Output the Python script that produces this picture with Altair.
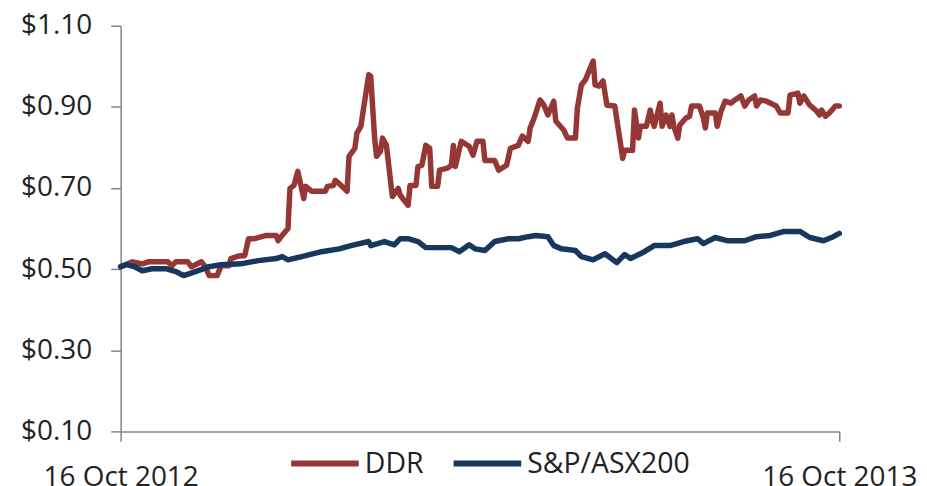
import altair as alt
import pandas as pd

start_date = "2012-10-16"
series_names = ["DDR", "S&P/ASX200"]
series_colors = ["#953735", "#17375E"]
y_ticks = [0.1, 0.3, 0.5, 0.7, 0.9, 1.1]

# days after 16 Oct 2012 and closing values
ddr_day = [0, 6, 11, 14, 24, 26, 28, 34, 36, 41,
           43, 45, 49, 51, 55, 56, 59, 61, 63, 65,
           68, 74, 79, 80, 82, 85, 86, 88, 90, 93,
           94, 97, 104, 105, 108, 109, 112, 115, 116, 119,
           120, 122, 126, 127, 129, 130, 132, 133, 135, 138,
           141, 142, 146, 147, 150, 151, 153, 155, 157, 158,
           161, 162, 166, 168, 169, 170, 173, 177, 179, 181,
           184, 185, 190, 192, 196, 198, 202, 204, 207, 208,
           210, 213, 215, 217, 220, 221, 225, 227, 231, 232,
           234, 236, 240, 241, 243, 245, 247, 251, 255, 256,
           260, 261, 263, 264, 267, 269, 270, 271, 273, 274,
           275, 277, 279, 280, 281, 283, 284, 287, 289, 290,
           294, 296, 297, 298, 302, 303, 305, 307, 310, 312,
           315, 317, 319, 322, 323, 325, 328, 333, 335, 339,
           340, 344, 345, 347, 350, 353, 355, 356, 358, 360,
           363, 365]
ddr_val = [0.506, 0.518, 0.513, 0.518, 0.518, 0.508, 0.518, 0.518, 0.506, 0.518,
           0.506, 0.484, 0.484, 0.508, 0.508, 0.526, 0.531, 0.533, 0.533, 0.575,
           0.575, 0.583, 0.583, 0.570, 0.583, 0.600, 0.699, 0.706, 0.741, 0.674,
           0.704, 0.692, 0.692, 0.704, 0.706, 0.719, 0.706, 0.692, 0.778, 0.798,
           0.835, 0.852, 0.979, 0.976, 0.823, 0.778, 0.791, 0.823, 0.805, 0.679,
           0.699, 0.682, 0.657, 0.706, 0.706, 0.753, 0.756, 0.805, 0.798, 0.704,
           0.704, 0.744, 0.749, 0.756, 0.805, 0.753, 0.815, 0.803, 0.781, 0.815,
           0.815, 0.768, 0.768, 0.744, 0.756, 0.798, 0.805, 0.828, 0.815, 0.848,
           0.872, 0.917, 0.904, 0.880, 0.914, 0.865, 0.843, 0.823, 0.823, 0.897,
           0.954, 0.966, 1.013, 0.954, 0.951, 0.964, 0.904, 0.902, 0.773, 0.793,
           0.793, 0.892, 0.823, 0.852, 0.852, 0.892, 0.867, 0.852, 0.890, 0.909,
           0.852, 0.880, 0.852, 0.880, 0.852, 0.823, 0.855, 0.872, 0.877, 0.902,
           0.902, 0.872, 0.848, 0.885, 0.885, 0.852, 0.890, 0.914, 0.909, 0.917,
           0.927, 0.902, 0.917, 0.927, 0.902, 0.917, 0.914, 0.902, 0.885, 0.885,
           0.929, 0.934, 0.909, 0.927, 0.904, 0.892, 0.880, 0.892, 0.877, 0.885,
           0.902, 0.902]

sp_day = [0, 3, 7, 11, 16, 23, 28, 32, 38, 45,
          51, 61, 70, 79, 82, 85, 92, 102, 111, 117,
          126, 127, 134, 139, 142, 146, 151, 155, 163, 168,
          172, 177, 180, 185, 190, 197, 202, 207, 211, 217,
          220, 224, 231, 234, 240, 246, 252, 256, 259, 266,
          271, 279, 286, 293, 296, 302, 308, 317, 323, 330,
          337, 345, 350, 357, 362, 365]
sp_val = [0.506, 0.511, 0.506, 0.496, 0.501, 0.501, 0.494, 0.484, 0.494, 0.506,
          0.511, 0.513, 0.521, 0.526, 0.531, 0.523, 0.531, 0.543, 0.550, 0.558,
          0.568, 0.558, 0.568, 0.560, 0.575, 0.575, 0.568, 0.553, 0.553, 0.553,
          0.543, 0.560, 0.550, 0.546, 0.568, 0.575, 0.575, 0.580, 0.583, 0.580,
          0.558, 0.550, 0.546, 0.531, 0.523, 0.538, 0.516, 0.536, 0.526, 0.543,
          0.558, 0.558, 0.568, 0.575, 0.563, 0.578, 0.570, 0.570, 0.580, 0.583,
          0.593, 0.593, 0.578, 0.570, 0.580, 0.588]

base = pd.Timestamp(start_date)
rows = []
for name, days, vals in [(series_names[0], ddr_day, ddr_val),
                         (series_names[1], sp_day, sp_val)]:
    for d, v in zip(days, vals):
        rows.append({"date": (base + pd.Timedelta(days=d)).strftime("%Y-%m-%d"),
                     "value": v, "series": name})
df = pd.DataFrame(rows)

x_start = alt.DateTime(year=2012, month=10, date=16, utc=True)
x_end = alt.DateTime(year=2013, month=10, date=16, utc=True)

chart = alt.Chart(df).mark_line(
    strokeWidth=5.5, strokeJoin="round", strokeCap="round"
).encode(
    x=alt.X("date:T",
            scale=alt.Scale(type="utc", domain=[x_start, x_end]),
            axis=alt.Axis(values=[x_start, x_end],
                          labelExpr="utcFormat(datum.value, '%-d %b %Y')",
                          title=None, tickSize=10,
                          labelPadding=22, labelFlush=False, labelOverlap=False)),
    y=alt.Y("value:Q",
            scale=alt.Scale(domain=[0.1, 1.1], nice=False, zero=False),
            axis=alt.Axis(values=y_ticks, format="$.2f", title=None,
                          tickSize=10, labelPadding=19)),
    color=alt.Color("series:N",
                    scale=alt.Scale(domain=series_names, range=series_colors),
                    legend=alt.Legend(orient="none", legendX=168, legendY=402,
                                      direction="horizontal", title=None,
                                      symbolType="stroke", symbolSize=4600,
                                      symbolStrokeWidth=6, labelFontSize=28.5,
                                      labelFont="Open Sans", labelColor="#222222",
                                      labelLimit=400,
                                      columnPadding=18, labelOffset=3, padding=0)),
    order=alt.Order("date:T"),
).properties(
    width=721, height=407,
    autosize=alt.AutoSizeParams(type="none"),
    padding={"left": 113, "top": 17, "right": 80, "bottom": 54},
).configure_view(
    stroke=None
).configure_axis(
    grid=False, domainColor="#868686", tickColor="#868686",
    domainWidth=1.5, tickWidth=1.5,
    labelFont="Open Sans", labelFontSize=28, labelColor="#222222",
)

chart.save("out.html", embed_options={"renderer": "svg", "actions": False})
